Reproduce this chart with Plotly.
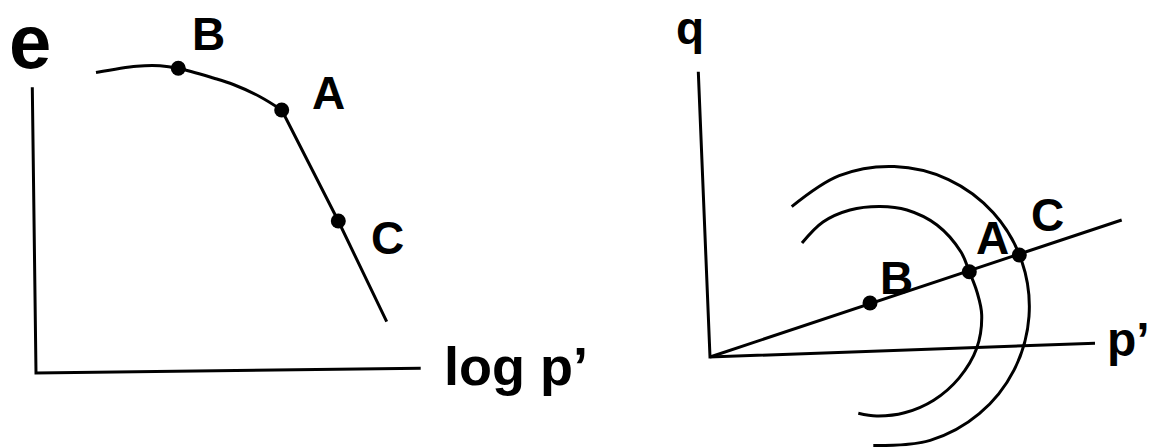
import plotly.graph_objects as go

# ---------------- left panel: e - log p' ----------------
# axis frame (drawing units, origin at the axes corner)
e_axis_x = [-3.7, 0.0, 384.7]
e_axis_y = [285.7, 0.0, 4.7]

# curved part of the compression curve up to point A
curve_logp = [60.0, 100.7, 124.0, 142.3, 177.3, 197.3, 224.0, 245.7]
curve_e = [300.5, 306.8, 307.3, 304.7, 295.0, 288.5, 276.3, 263.0]
# straight normal-compression line from A downwards
ncl_logp = [245.7, 302.3, 350.7]
ncl_e = [263.0, 152.0, 51.3]

# state points on the e - log p' plane
left_pts = ["B", "A", "C"]
left_pts_logp = [142.3, 245.7, 302.3]
left_pts_e = [304.7, 263.0, 152.0]
left_lbl_x = [172.5, 292.0, 351.5]
left_lbl_y = [339.0, 280.5, 135.5]

# ---------------- right panel: q - p' ----------------
q_axis_x = [-11.7, 0.0, 385.0]
q_axis_y = [285.3, 0.0, 13.7]

# stress path through the origin
path_p = [0.0, 411.7]
path_q = [0.0, 137.0]

# state points on the stress path
right_pts = ["B", "A", "C"]
right_pts_p = [160.0, 259.3, 309.3]
right_pts_q = [54.0, 85.3, 102.0]
right_lbl_x = [186.5, 282.5, 337.5]
right_lbl_y = [79.5, 119.0, 142.5]

# inner yield surface (passes through A)
inner_p = [92.0, 113.0, 140.0, 170.0, 197.0, 227.0, 251.0, 259.3, 267.0,
           271.7, 266.7, 249.0, 223.7, 194.5, 166.7, 148.3]
inner_q = [114.0, 135.0, 147.0, 150.5, 147.0, 132.0, 105.0, 85.3, 65.0,
           42.0, 8.7, -21.1, -43.2, -55.8, -59.0, -56.3]

# outer yield surface (passes through C)
outer_p = [81.7, 129.2, 184.2, 238.5, 283.3, 311.7, 319.0, 304.0, 269.3,
           220.2, 163.3]
outer_q = [150.3, 181.3, 190.4, 177.4, 144.2, 96.1, 40.7, -13.1, -56.7,
           -83.4, -88.6]

INK = "black"
LW = 3
FONT = "Liberation Sans"

fig = go.Figure()


def line(x, y, axes, shape="linear"):
    xa, ya = axes
    fig.add_trace(go.Scatter(x=x, y=y, mode="lines", xaxis=xa, yaxis=ya,
                             line=dict(color=INK, width=LW, shape=shape),
                             hoverinfo="skip", showlegend=False))


def dots(x, y, axes):
    xa, ya = axes
    fig.add_trace(go.Scatter(x=x, y=y, mode="markers", xaxis=xa, yaxis=ya,
                             marker=dict(color=INK, size=15),
                             hoverinfo="skip", showlegend=False))


L = ("x", "y")
R = ("x2", "y2")

line(e_axis_x, e_axis_y, L)
line(curve_logp, curve_e, L, "spline")
line(ncl_logp, ncl_e, L)
dots(left_pts_logp, left_pts_e, L)

line(q_axis_x, q_axis_y, R)
line(path_p, path_q, R)
line(inner_p, inner_q, R, "spline")
line(outer_p, outer_q, R, "spline")
dots(right_pts_p, right_pts_q, R)

ann = []


def label(text, x, y, xref, yref, size, xanchor="center", yanchor="middle"):
    ann.append(dict(text="<b>%s</b>" % text, x=x, y=y, xref=xref, yref=yref,
                    showarrow=False, xanchor=xanchor, yanchor=yanchor,
                    font=dict(family=FONT, size=size, color=INK)))


label("e", -6.0, 331.5, "x", "y", 76)
label("log p’", 406.0, 7.0, "x", "y", 54, xanchor="left")
for t, x, y in zip(left_pts, left_lbl_x, left_lbl_y):
    label(t, x, y, "x", "y", 46)

label("q", -20.0, 357.0, "x2", "y2", 46, yanchor="top")
label("p’", 442.0, 17.6, "x2", "y2", 48, xanchor="right")
for t, x, y in zip(right_pts, right_lbl_x, right_lbl_y):
    label(t, x, y, "x2", "y2", 46)

hidden = dict(visible=False, showgrid=False, zeroline=False, fixedrange=True)

fig.update_layout(
    width=1152, height=447,
    margin=dict(l=0, r=0, t=0, b=0),
    paper_bgcolor="white", plot_bgcolor="white",
    xaxis=dict(domain=[0, 0.5], range=[-36, 540], **hidden),
    yaxis=dict(domain=[0, 1], range=[-74, 373], **hidden),
    xaxis2=dict(domain=[0.5, 1], range=[-134, 442], anchor="y2", **hidden),
    yaxis2=dict(domain=[0, 1], range=[-90, 357], anchor="x2", **hidden),
    annotations=ann,
    showlegend=False,
)

fig.write_html("out.html")
